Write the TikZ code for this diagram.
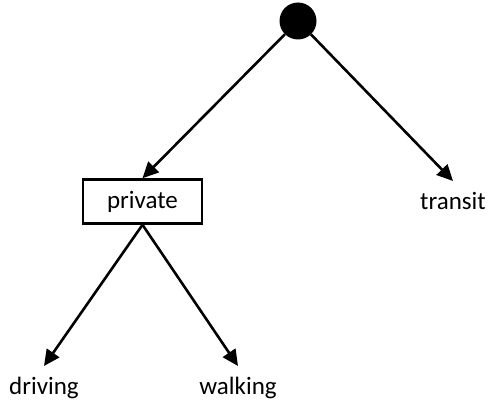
\documentclass[tikz,border=0pt]{standalone}
\usepackage{fontspec}
\setmainfont{Carlito}
\usetikzlibrary{arrows.meta}
\begin{document}
\begin{tikzpicture}[x=1pt,y=-1pt,
  edge/.style={line width=2.6pt,-{Triangle[length=16pt,width=15pt]}},
  label/.style={font=\fontsize{25}{30}\selectfont,inner sep=0pt,outer sep=11pt},
  box/.style={draw,line width=2.6pt,minimum width=119pt,minimum height=44pt,inner sep=0pt,font=\fontsize{25}{30}\selectfont}]
  \useasboundingbox (0,0) rectangle (489,404);
  \node[circle,fill=black,minimum size=37pt,inner sep=0pt] (root) at (298,21) {};
  \node[box] (private) at (142.5,201.5) {private};
  \node[label,anchor=north] (transit) at (453,181) {transit};
  \node[label,anchor=north] (driving) at (44,366) {driving};
  \node[label,anchor=north] (walking) at (238,366) {walking};
  \draw[edge] (root) -- (private.north);
  \draw[edge] (root) -- (transit.north);
  \draw[edge] (private.south) -- (driving.north);
  \draw[edge] (private.south) -- (walking.north);
\end{tikzpicture}
\end{document}
